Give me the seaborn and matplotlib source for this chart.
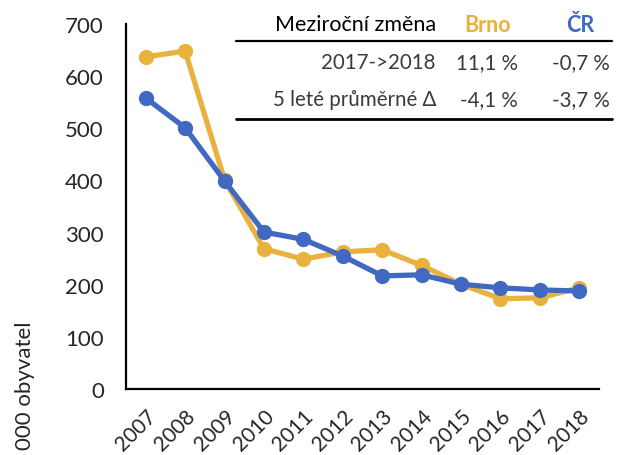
import matplotlib

matplotlib.use("Agg")

import matplotlib.pyplot as plt
import pandas as pd
import seaborn as sns
from matplotlib.lines import Line2D

YEARS = [str(y) for y in range(2007, 2019)]
BRNO = [637, 648, 401, 269, 249, 263, 267, 237, 201, 173, 175, 194]
CR = [558, 501, 399, 301, 287, 255, 217, 219, 201, 194, 190, 188]

SERIES = ["Brno", "ČR"]
COLORS = {"Brno": "#E9B23E", "ČR": "#4169C2"}

TABLE_HEADER = ["Meziroční změna", "Brno", "ČR"]
TABLE_ROWS = [
    ["2017->2018", "11,1 %", "-0,7 %"],
    ["5 leté průměrné Δ", "-4,1 %", "-3,7 %"],
]
# only the visible part of the axis title
YLABEL = "000 obyvatel"


def main() -> None:
    sns.set_theme(style="white")
    plt.rcParams["font.family"] = ["Lato", "DejaVu Sans"]

    data = pd.DataFrame(
        {
            "idx": list(range(len(YEARS))) * 2,
            "value": BRNO + CR,
            "series": ["Brno"] * len(YEARS) + ["ČR"] * len(YEARS),
        }
    )

    fig = plt.figure(figsize=(6.25, 4.56), dpi=100)
    ax = fig.add_axes([0.2016, 0.1447, 0.7568, 0.8005])
    sns.lineplot(
        data=data,
        x="idx",
        y="value",
        hue="series",
        hue_order=SERIES,
        palette=COLORS,
        marker="o",
        markersize=11,
        markeredgewidth=0,
        linewidth=3.8,
        legend=False,
        ax=ax,
    )
    ax.set_xlim(-0.5, len(YEARS) - 0.5)
    ax.set_ylim(0, 700)
    ax.set_yticks(range(0, 701, 100))
    ax.set_xticks(range(len(YEARS)))
    ax.set_xticklabels(YEARS, rotation=45, ha="right", rotation_mode="anchor")
    ax.tick_params(axis="y", labelsize=16, length=0, pad=16)
    ax.tick_params(axis="x", labelsize=15, length=0, pad=12)
    ax.set_xlabel("")
    ax.set_ylabel("")
    for side in ["top", "right"]:
        ax.spines[side].set_visible(False)
    for side in ["left", "bottom"]:
        ax.spines[side].set_color("black")
        ax.spines[side].set_linewidth(1.6)

    fig.text(25 / 625, 1 - 322 / 456, YLABEL, rotation=90,
             ha="center", va="top", fontsize=16)

    # inset table
    W, H = 625, 456
    fs = 14.8
    fig.text(436 / W, 1 - 25 / H, TABLE_HEADER[0], ha="right", va="center", fontsize=15.5, color="black")
    fig.text(488 / W, 1 - 25 / H, TABLE_HEADER[1], ha="center", va="center", fontsize=15.5,
             color=COLORS["Brno"], fontweight="bold")
    fig.text(580 / W, 1 - 25 / H, TABLE_HEADER[2], ha="center", va="center", fontsize=15.5,
             color=COLORS["ČR"], fontweight="bold")
    for row, yc in zip(TABLE_ROWS, [63, 100]):
        fig.text(436 / W, 1 - yc / H, row[0], ha="right", va="center", fontsize=fs, color="#3a3a3a")
        fig.text(518 / W, 1 - yc / H, row[1], ha="right", va="center", fontsize=fs, color="#3a3a3a")
        fig.text(610 / W, 1 - yc / H, row[2], ha="right", va="center", fontsize=fs, color="#3a3a3a")
    for yl, lw in [(42, 1.6), (120, 2.0)]:
        fig.add_artist(Line2D([236 / W, 612 / W], [1 - yl / H, 1 - yl / H],
                              color="black", linewidth=lw, transform=fig.transFigure))

    fig.savefig("out.png", dpi=100)
    plt.close(fig)


if __name__ == "__main__":
    main()
